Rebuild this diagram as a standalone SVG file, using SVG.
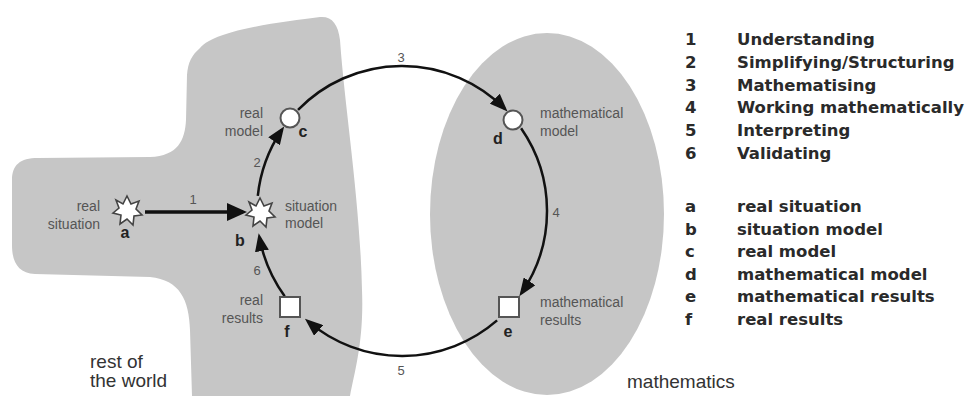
<svg xmlns="http://www.w3.org/2000/svg" width="972" height="396" viewBox="0 0 972 396">
<defs>
<style>
.region{fill:#c6c6c6;stroke:none}
.edge{fill:none;stroke:#111;stroke-width:2.5}
.edge1{fill:none;stroke:#111;stroke-width:3.5}
.lbl{font-family:"Liberation Sans",Arial,sans-serif;font-size:14px;fill:#555}
.num{font-family:"Liberation Sans",Arial,sans-serif;font-size:13px;fill:#555;text-anchor:middle}
.key{font-family:"Liberation Sans",Arial,sans-serif;font-size:16px;font-weight:bold;fill:#222;text-anchor:middle}
.big{font-family:"Liberation Sans",Arial,sans-serif;font-size:19px;fill:#333}
.leg{font-family:"DejaVu Sans",Verdana,sans-serif;font-size:16.5px;font-weight:bold;fill:#2a2a2a}
.star{fill:#fff;stroke:#444;stroke-width:1.6;stroke-linejoin:miter}
.node{fill:#fff;stroke:#555;stroke-width:2}
</style>
<marker id="ah" viewBox="0 0 18 14" markerUnits="userSpaceOnUse" markerWidth="18" markerHeight="14" refX="14" refY="7" orient="auto">
<path d="M0,0 L18,7 L0,14 Z" fill="#111"/>
</marker>
<marker id="ahb" viewBox="0 0 20 18" markerUnits="userSpaceOnUse" markerWidth="20" markerHeight="18" refX="16" refY="9" orient="auto">
<path d="M0,0 L20,9 L0,18 Z" fill="#111"/>
</marker>
<polygon id="starShape" points="0,-15 4,-7 12,-10 9,-2 15,4 7,5 6,14 0,8 -7,13 -6,4 -14,2 -8,-3 -11,-11 -4,-7"/>
</defs>

<rect width="972" height="396" fill="#fff"/>

<g id="rest-of-world">
<path class="region" d="M200,48 C215,30 280,22 320,17 C332,16 338,24 340,40 C345,110 360,200 362,290 C364,340 355,370 350,396 L192,396 L190,330 C189,300 180,280 150,277 L35,274 C18,273 12,262 12,245 L12,180 C12,165 20,158 38,158 L150,157 C178,156 185,140 186,120 L187,75 C188,62 192,55 200,48 Z"/>
<text class="big" x="90" y="368">rest of</text>
<text class="big" x="90" y="387">the world</text>
</g>

<g id="mathematics">
<ellipse class="region" cx="547" cy="214" rx="117" ry="181"/>
<text class="big" x="627" y="388">mathematics</text>
</g>

<g id="connectors">
<path class="edge1" d="M145,212 L243,212" marker-end="url(#ahb)"/>
<text class="num" x="193" y="204">1</text>
<path class="edge" d="M257.8,195.8 A145,145 0 0 1 281.9,129.7" marker-end="url(#ah)"/>
<text class="num" x="257" y="167">2</text>
<path class="edge" d="M298,109.9 A145,145 0 0 1 504.7,108.6" marker-end="url(#ah)"/>
<text class="num" x="401" y="62">3</text>
<path class="edge" d="M521.1,128.2 A145,145 0 0 1 521.6,292.9" marker-end="url(#ah)"/>
<text class="num" x="556" y="217">4</text>
<path class="edge" d="M497.1,320.4 A145,145 0 0 1 308,321.4" marker-end="url(#ah)"/>
<text class="num" x="401" y="375">5</text>
<path class="edge" d="M284.7,296.2 A145,145 0 0 1 259.4,237.2" marker-end="url(#ah)"/>
<text class="num" x="257" y="275">6</text>
</g>

<g id="node-a">
<use href="#starShape" class="star" transform="translate(127,211)"/>
<text class="lbl" x="100" y="211" text-anchor="end">real</text>
<text class="lbl" x="100" y="229" text-anchor="end">situation</text>
<text class="key" x="125" y="238">a</text>
</g>

<g id="node-b">
<use href="#starShape" class="star" transform="translate(260,213)"/>
<text class="lbl" x="285" y="211">situation</text>
<text class="lbl" x="285" y="228">model</text>
<text class="key" x="240" y="246">b</text>
</g>

<g id="node-c">
<circle class="node" cx="290" cy="118" r="9.5"/>
<text class="lbl" x="263" y="118" text-anchor="end">real</text>
<text class="lbl" x="263" y="136" text-anchor="end">model</text>
<text class="key" x="303" y="137">c</text>
</g>

<g id="node-d">
<circle class="node" cx="513" cy="120" r="9.5"/>
<text class="lbl" x="540" y="118">mathematical</text>
<text class="lbl" x="540" y="136">model</text>
<text class="key" x="498" y="144">d</text>
</g>

<g id="node-e">
<rect class="node" x="499" y="297" width="20" height="20"/>
<text class="lbl" x="540" y="307">mathematical</text>
<text class="lbl" x="540" y="325">results</text>
<text class="key" x="508" y="337">e</text>
</g>

<g id="node-f">
<rect class="node" x="280" y="297" width="20" height="20"/>
<text class="lbl" x="263" y="305" text-anchor="end">real</text>
<text class="lbl" x="263" y="323" text-anchor="end">results</text>
<text class="key" x="287" y="337">f</text>
</g>

<g id="legend">
<text class="leg" x="685" y="45">1</text><text class="leg" x="737" y="45">Understanding</text>
<text class="leg" x="685" y="68">2</text><text class="leg" x="737" y="68">Simplifying/Structuring</text>
<text class="leg" x="685" y="91">3</text><text class="leg" x="737" y="91">Mathematising</text>
<text class="leg" x="685" y="113">4</text><text class="leg" x="737" y="113">Working mathematically</text>
<text class="leg" x="685" y="136">5</text><text class="leg" x="737" y="136">Interpreting</text>
<text class="leg" x="685" y="159">6</text><text class="leg" x="737" y="159">Validating</text>
<text class="leg" x="685" y="212">a</text><text class="leg" x="737" y="212">real situation</text>
<text class="leg" x="685" y="235">b</text><text class="leg" x="737" y="235">situation model</text>
<text class="leg" x="685" y="257">c</text><text class="leg" x="737" y="257">real model</text>
<text class="leg" x="685" y="280">d</text><text class="leg" x="737" y="280">mathematical model</text>
<text class="leg" x="685" y="302">e</text><text class="leg" x="737" y="302">mathematical results</text>
<text class="leg" x="685" y="325">f</text><text class="leg" x="737" y="325">real results</text>
</g>
</svg>
